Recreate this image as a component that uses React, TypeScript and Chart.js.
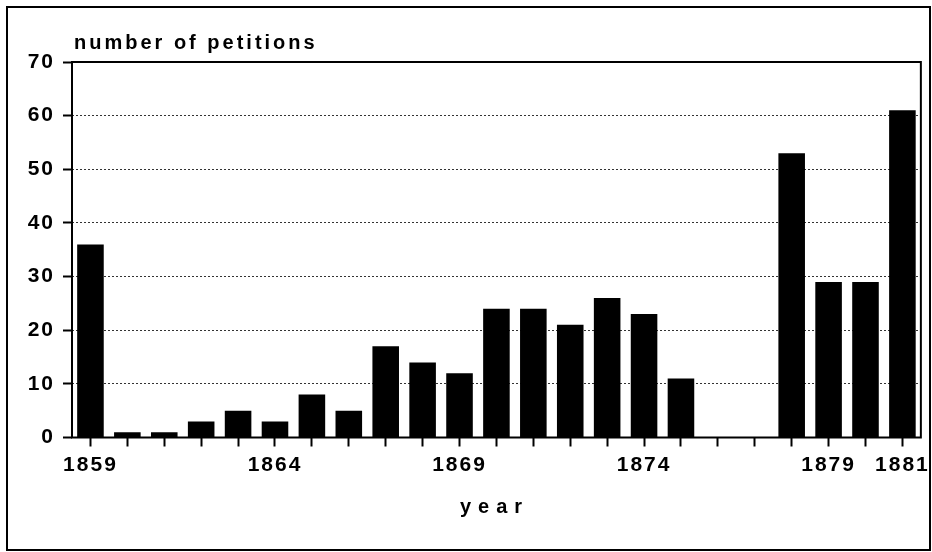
import React, { useEffect, useRef } from 'react';
import { Chart, registerables } from 'chart.js';

Chart.register(...registerables);

const years = [
  '1859', '1860', '1861', '1862', '1863', '1864', '1865', '1866', '1867', '1868', '1869', '1870',
  '1871', '1872', '1873', '1874', '1875', '1876', '1877', '1878', '1879', '1880', '1881',
];
const petitions = [36, 1, 1, 3, 5, 3, 8, 5, 17, 14, 12, 24, 24, 21, 26, 23, 11, 0, 0, 53, 29, 29, 61];
const shownYearLabels = ['1859', '1864', '1869', '1874', '1879', '1881'];
const yMin = 0;
const yMax = 70;
const yStep = 10;
const yAxisTitle = 'number of petitions';
const xAxisTitle = 'year';

const FONT = '"Liberation Sans", Arial, Helvetica, sans-serif';

const framePlugin = {
  id: 'framePlugin',
  beforeDraw(chart: any) {
    const ctx = chart.ctx;
    ctx.save();
    ctx.fillStyle = '#fff';
    ctx.fillRect(0, 0, chart.width, chart.height);
    ctx.restore();
    ctx.letterSpacing = '2px';
  },
  afterDraw(chart: any) {
    const ctx = chart.ctx;
    const a = chart.chartArea;
    ctx.save();
    ctx.letterSpacing = '0px';
    ctx.strokeStyle = '#000';
    ctx.setLineDash([]);
    ctx.lineWidth = 2;
    ctx.strokeRect(a.left, a.top, a.right - a.left, a.bottom - a.top);
    ctx.strokeRect(7, 7, 923, 543);
    ctx.fillStyle = '#000';
    ctx.font = 'bold 20px ' + FONT;
    ctx.textAlign = 'left';
    ctx.textBaseline = 'alphabetic';
    ctx.letterSpacing = '3px';
    ctx.fillText(yAxisTitle, a.left + 2, a.top - 13);
    ctx.letterSpacing = '7px';
    ctx.fillText(xAxisTitle, a.left + 388, a.bottom + 75);
    ctx.restore();
  },
};

export default function App() {
  const ref = useRef<HTMLCanvasElement | null>(null);

  useEffect(() => {
    if (!ref.current) return;
    const chart = new Chart(ref.current, {
      type: 'bar',
      data: {
        labels: years,
        datasets: [
          {
            data: petitions,
            backgroundColor: '#000',
            borderWidth: 0,
            barPercentage: 0.72,
            categoryPercentage: 1,
          },
        ],
      },
      options: {
        responsive: false,
        animation: false,
        layout: { padding: { left: 0, right: 11, top: 62, bottom: 0 } },
        plugins: {
          legend: { display: false },
          tooltip: { enabled: false },
          title: { display: false },
        },
        scales: {
          x: {
            offset: true,
            afterFit: (scale: any) => {
              scale.height = 114.5;
            },
            grid: {
              offset: false,
              drawOnChartArea: false,
              drawTicks: true,
              tickLength: 9,
              tickWidth: 2,
              tickColor: '#000',
              tickBorderDash: [],
            },
            border: { display: false },
            ticks: {
              autoSkip: false,
              maxRotation: 0,
              padding: 6,
              color: '#000',
              font: { family: FONT, size: 21, weight: 'bold' },
              callback: function (this: any, _v: any, i: number) {
                const lbl = years[i];
                return shownYearLabels.includes(lbl) ? lbl : '';
              },
            },
          },
          y: {
            min: yMin,
            max: yMax,
            afterFit: (scale: any) => {
              scale.width = 72;
            },
            grid: {
              drawTicks: true,
              tickLength: 9,
              tickWidth: 2,
              tickColor: '#000',
              tickBorderDash: [],
              lineWidth: 1,
              color: (c: any) =>
                c.tick && (c.tick.value === yMin || c.tick.value === yMax) ? 'rgba(0,0,0,0)' : '#333',
            },
            border: { display: false, dash: [2, 2] },
            ticks: {
              stepSize: yStep,
              padding: 8,
              color: '#000',
              font: { family: FONT, size: 21, weight: 'bold' },
            },
          },
        },
      },
      plugins: [framePlugin],
    } as any);
    return () => chart.destroy();
  }, []);

  return (
    <div style={{ position: 'fixed', left: 0, top: 0, width: 932, height: 552, background: '#fff' }}>
      <canvas ref={ref} width={932} height={552} style={{ display: 'block' }} />
    </div>
  );
}
